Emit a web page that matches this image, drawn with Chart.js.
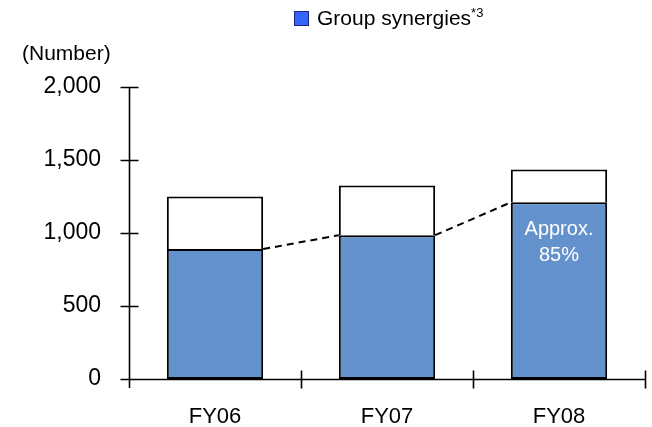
<!DOCTYPE html>
<html>
<head>
<meta charset="utf-8">
<script src="https://cdn.jsdelivr.net/npm/chart.js@4/dist/chart.umd.min.js"></script>
<style>
  html, body { margin: 0; padding: 0; background: #ffffff; }
  #wrap { position: relative; width: 652px; height: 427px; font-family: "Liberation Sans", Arial, sans-serif; color: #000; }
  #chart { position: absolute; left: 0; top: 0; }
  #legend { position: absolute; left: 294px; top: 6px; font-size: 21px; line-height: 24px; white-space: nowrap; }
  #legend .box { display: inline-block; width: 13px; height: 13px; background: #3366ff; border: 1px solid #1a237e; vertical-align: -1px; margin-right: 8px; }
  #legend sup { font-size: 13px; vertical-align: 8px; line-height: 0; }
  #unit { position: absolute; left: 22px; top: 41px; font-size: 21px; white-space: nowrap; }
</style>
</head>
<body>
<div id="wrap">
  <canvas id="chart" width="652" height="427"></canvas>
  <div id="legend"><span class="box"></span>Group synergies<sup>*3</sup></div>
  <div id="unit">(Number)</div>
</div>
<script>
// Fiscal years on the category axis
const years = ["FY06", "FY07", "FY08"];
// Cases coming from group synergies (lower, blue segment)
const synergies = [890, 985, 1210];
// Remaining cases (upper, white segment)
const others = [360, 340, 225];
// Value-axis ticks
const yTicks = [0, 500, 1000, 1500, 2000];
// Note written inside the FY08 synergy segment
const fy08Note = ["Approx.", "85%"];

const FONT = "'Liberation Sans', Arial, sans-serif";

// Axis lines with tick marks that cross the axis, drawn from the scales
const crossAxes = {
  id: "crossAxes",
  afterDatasetsDraw(chart) {
    const { ctx, chartArea: a, scales: { x, y } } = chart;
    const half = 9;
    ctx.save();
    ctx.strokeStyle = "#000";
    ctx.lineWidth = 1.6;
    ctx.beginPath();
    // value axis
    const x0 = Math.round(a.left) + 0.5;
    ctx.moveTo(x0, y.getPixelForValue(yTicks[yTicks.length - 1]));
    ctx.lineTo(x0, y.getPixelForValue(0) + half);
    yTicks.forEach(v => {
      const py = Math.round(y.getPixelForValue(v)) + 0.5;
      ctx.moveTo(x0 - half, py);
      ctx.lineTo(x0 + half, py);
    });
    // category axis
    const y0 = Math.round(y.getPixelForValue(0)) + 0.5;
    ctx.moveTo(a.left, y0);
    ctx.lineTo(a.right, y0);
    const step = (a.right - a.left) / years.length;
    for (let i = 1; i <= years.length; i++) {
      const px = Math.round(x.getPixelForValue(i - 1) + step / 2) + 0.5;
      ctx.moveTo(px, y0 - half);
      ctx.lineTo(px, y0 + half);
    }
    ctx.stroke();
    ctx.restore();
  }
};

// Dashed series lines joining the tops of the synergy segments
const seriesLines = {
  id: "seriesLines",
  afterDatasetsDraw(chart) {
    const bars = chart.getDatasetMeta(0).data;
    const { ctx } = chart;
    ctx.save();
    ctx.strokeStyle = "#000";
    ctx.lineWidth = 2;
    ctx.setLineDash([7, 5]);
    ctx.beginPath();
    for (let i = 0; i < bars.length - 1; i++) {
      const a = bars[i].getProps(["x", "y", "width"], true);
      const b = bars[i + 1].getProps(["x", "y", "width"], true);
      ctx.moveTo(a.x + a.width / 2, a.y);
      ctx.lineTo(b.x - b.width / 2, b.y);
    }
    ctx.stroke();
    ctx.restore();
  }
};

// Share note inside the last synergy segment
const shareNote = {
  id: "shareNote",
  afterDatasetsDraw(chart) {
    const bars = chart.getDatasetMeta(0).data;
    const bar = bars[bars.length - 1].getProps(["x", "y"], true);
    const { ctx } = chart;
    ctx.save();
    ctx.fillStyle = "#ffffff";
    ctx.font = "20px " + FONT;
    ctx.textAlign = "center";
    ctx.textBaseline = "middle";
    fy08Note.forEach((t, i) => ctx.fillText(t, bar.x, bar.y + 27 + i * 26));
    ctx.restore();
  }
};

new Chart(document.getElementById("chart"), {
  type: "bar",
  data: {
    labels: years,
    datasets: [
      {
        label: "Group synergies",
        data: synergies,
        backgroundColor: "#6492cc",
        borderColor: "#000",
        borderWidth: 2,
        borderSkipped: false
      },
      {
        label: "Other",
        data: others,
        backgroundColor: "#ffffff",
        borderColor: "#000",
        borderWidth: { top: 2, left: 2, right: 2, bottom: 0 },
        borderSkipped: "start"
      }
    ]
  },
  options: {
    responsive: false,
    animation: false,
    devicePixelRatio: 1,
    layout: { padding: { left: 0, top: 87, right: 7, bottom: 0 } },
    plugins: { legend: { display: false }, tooltip: { enabled: false } },
    datasets: { bar: { barPercentage: 0.56, categoryPercentage: 1 } },
    scales: {
      x: {
        stacked: true,
        grid: { display: false, drawTicks: false },
        border: { display: false },
        ticks: { color: "#000", font: { family: FONT, size: 22 }, padding: 25 },
        afterFit: s => { s.height = 48; }
      },
      y: {
        stacked: true,
        min: 0,
        max: 2000,
        afterBuildTicks: s => { s.ticks = yTicks.map(v => ({ value: v })); },
        grid: { display: false, drawTicks: false },
        border: { display: false },
        ticks: {
          color: "#000",
          font: { family: FONT, size: 23 },
          padding: 28,
          callback: v => v.toLocaleString("en-US")
        },
        afterFit: s => { s.width = 129; }
      }
    }
  },
  plugins: [crossAxes, seriesLines, shareNote]
});
</script>
</body>
</html>
